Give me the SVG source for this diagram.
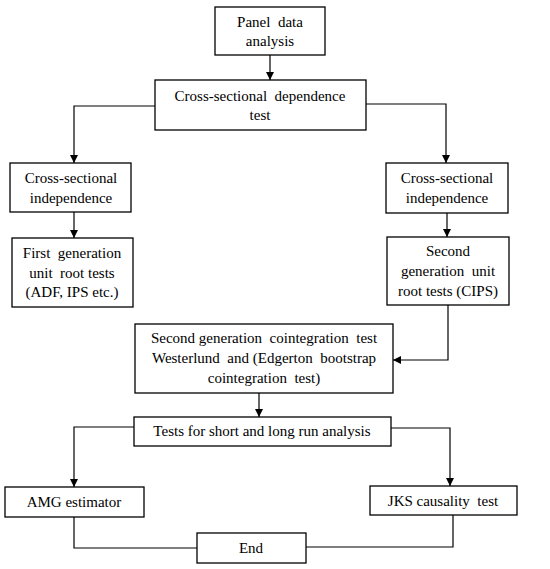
<svg xmlns="http://www.w3.org/2000/svg" width="550" height="569" viewBox="0 0 550 569">
<defs>
<marker id="ah" viewBox="0 0 10 10" refX="10" refY="5" markerWidth="8" markerHeight="8" markerUnits="userSpaceOnUse" orient="auto">
<path d="M0,0 L10,5 L0,10 z" fill="#000"/>
</marker>
<style>
.box{fill:#fff;stroke:#000;stroke-width:1.3}
.t{font-family:'Liberation Serif','Times New Roman',serif;font-size:15px;fill:#000;text-anchor:middle}
.c{fill:none;stroke:#000;stroke-width:1.2}
</style>
</defs>
<rect width="550" height="569" fill="#fff"/>
<g id="connectors">
<path class="c" d="M270,55 V80" marker-end="url(#ah)"/>
<path class="c" d="M155,106 H74 V163" marker-end="url(#ah)"/>
<path class="c" d="M366,104 H446 V163" marker-end="url(#ah)"/>
<path class="c" d="M74,212 V238" marker-end="url(#ah)"/>
<path class="c" d="M447,213 V237" marker-end="url(#ah)"/>
<path class="c" d="M448,305 V360 H393" marker-end="url(#ah)"/>
<path class="c" d="M259,393 V417" marker-end="url(#ah)"/>
<path class="c" d="M134,427 H74 V487" marker-end="url(#ah)"/>
<path class="c" d="M391,428 H450 V486" marker-end="url(#ah)"/>
<path class="c" d="M74,517 V548 H197"/>
<path class="c" d="M453,515 V547 H306"/>
</g>
<g id="panel">
<rect class="box" x="215" y="7" width="110" height="48"/>
<text class="t" x="270" y="27" xml:space="preserve">Panel  data</text>
<text class="t" x="270" y="46">analysis</text>
</g>
<g id="csd">
<rect class="box" x="155" y="80" width="211" height="50"/>
<text class="t" x="260" y="101" xml:space="preserve">Cross-sectional  dependence</text>
<text class="t" x="260" y="120">test</text>
</g>
<g id="csi-left">
<rect class="box" x="10" y="163" width="121" height="49"/>
<text class="t" x="71" y="183">Cross-sectional</text>
<text class="t" x="71" y="203">independence</text>
</g>
<g id="first-gen">
<rect class="box" x="12" y="238" width="121" height="69"/>
<text class="t" x="72" y="258" xml:space="preserve">First  generation</text>
<text class="t" x="72" y="278" xml:space="preserve">unit  root tests</text>
<text class="t" x="72" y="297">(ADF, IPS etc.)</text>
</g>
<g id="csi-right">
<rect class="box" x="386" y="163" width="122" height="50"/>
<text class="t" x="447" y="183">Cross-sectional</text>
<text class="t" x="447" y="203">independence</text>
</g>
<g id="second-gen">
<rect class="box" x="387" y="237" width="122" height="68"/>
<text class="t" x="448" y="256">Second</text>
<text class="t" x="448" y="276" xml:space="preserve">generation  unit</text>
<text class="t" x="448" y="296">root tests (CIPS)</text>
</g>
<g id="cointegration">
<rect class="box" x="135" y="324" width="258" height="69"/>
<text class="t" x="264" y="343" xml:space="preserve">Second generation  cointegration  test</text>
<text class="t" x="264" y="363" xml:space="preserve">Westerlund  and (Edgerton  bootstrap</text>
<text class="t" x="264" y="383" xml:space="preserve">cointegration  test)</text>
</g>
<g id="tests">
<rect class="box" x="134" y="417" width="257" height="29"/>
<text class="t" x="262" y="436">Tests for short and long run analysis</text>
</g>
<g id="amg">
<rect class="box" x="5" y="487" width="139" height="30"/>
<text class="t" x="74" y="507">AMG estimator</text>
</g>
<g id="jks">
<rect class="box" x="370" y="486" width="147" height="29"/>
<text class="t" x="443" y="506" xml:space="preserve">JKS causality  test</text>
</g>
<g id="end">
<rect class="box" x="197" y="533" width="109" height="30"/>
<text class="t" x="251" y="553">End</text>
</g>
</svg>
